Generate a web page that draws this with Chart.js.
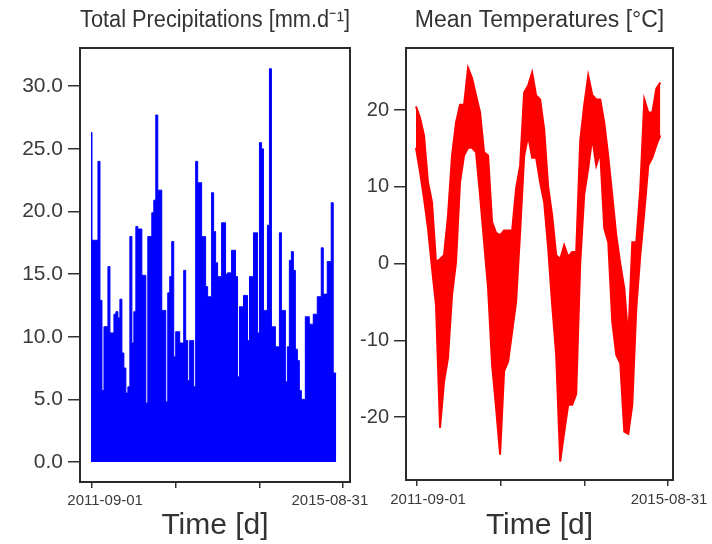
<!DOCTYPE html>
<html>
<head>
<meta charset="utf-8">
<script src="https://cdn.jsdelivr.net/npm/chart.js@4.4.0/dist/chart.umd.min.js"></script>
<style>
  body { margin: 0; background: #fff; }
  #wrap { position: relative; width: 712px; height: 544px; }
  canvas { position: absolute; top: 0; }
  #precipChart { left: 0; }
  #tempChart { left: 356px; }
</style>
</head>
<body>
<div id="wrap">
  <canvas id="precipChart" width="380" height="544"></canvas>
  <canvas id="tempChart" width="356" height="544"></canvas>
</div>
<script>
// Time axis: days since 2011-09-01
const DATE_LABELS = ['2011-09-01', '2015-08-31'];
const AXIS_TICK_DAYS = [0, 487, 973, 1460];
const PRECIP_TICKS = [0, 5, 10, 15, 20, 25, 30];
const TEMP_TICKS = [-20, -10, 0, 10, 20];

// Precipitation envelope (mm/d), one value every ~11.6 days
const PRECIP_START_DAY = -6;
const PRECIP_STEP_DAYS = 11.6;
const precipValues = [
    26.3, 17.7, 17.7, 17.7, 24.0, 12.9, 5.7, 10.8, 10.8, 15.6,
    10.3, 10.3, 11.8, 12.0, 11.5, 13.0, 8.7, 7.5, 5.5, 6.0,
    18.0, 9.5, 12.0, 18.8, 18.6, 18.6, 14.9, 14.9, 4.7, 18.0,
    18.0, 19.9, 20.9, 27.7, 21.7, 21.7, 12.1, 12.1, 4.8, 13.5,
    14.8, 17.6, 8.4, 10.4, 10.4, 9.5, 9.5, 15.3, 9.7, 6.5,
    9.7, 9.7, 6.0, 24.0, 22.3, 22.3, 18.0, 18.0, 14.0, 13.2,
    13.2, 21.5, 18.4, 15.9, 14.8, 14.8, 19.1, 19.1, 15.0, 15.1,
    15.1, 16.9, 16.9, 14.8, 6.8, 12.4, 12.4, 13.3, 13.3, 9.7,
    14.8, 14.8, 18.3, 18.3, 10.3, 25.5, 25.0, 12.1, 12.1, 18.9,
    31.4, 10.8, 10.8, 9.2, 9.2, 18.3, 12.1, 12.1, 6.4, 9.2,
    16.1, 16.8, 15.3, 9.0, 8.1, 5.7, 5.0, 5.0, 11.6, 11.6,
    11.0, 11.0, 11.8, 11.8, 13.2, 13.2, 17.1, 13.4, 13.4, 16.0,
    16.0, 20.7, 7.1, 7.1
];

// Mean temperature band (°C): high and low every ~23.3 days
const TEMP_START_DAY = -6;
const TEMP_STEP_DAYS = 23.3;
const tempHigh = [
    20.5, 19, 16.7, 10.6, 8, 0.2, 0.6, 1.1, 6.3, 14.1,
    18.4, 20.7, 20.7, 25.5, 24.2, 21.9, 19.7, 14.5, 14.1, 5.4,
    4.0, 3.7, 4.3, 4.3, 4.3, 9.8, 12.8, 22.3, 23.2, 24.9,
    21.9, 21.4, 17.5, 10, 6.3, 1.1, 0.6, 2.4, 0.9, 1.5,
    1.5, 16, 20.7, 24.5, 22, 21.4, 21.4, 18.4, 14, 8.9,
    3.7, 0, -3.2, -9.7, 2.8, 2.8, 9.8, 21.4, 19.7, 19.7,
    22.8, 23.6
];
const tempLow = [
    15.1, 12, 8.5, 4.6, -0.6, -5.4, -21.4, -15.4, -12.3, -4.1,
    0.2, 10.6, 14.1, 15.1, 15.1, 14.5, 8.9, 2.8, -3.2, -13.2,
    -18.8, -24.9, -14, -12.8, -8.9, -5.0, 4.1, 14, 16.7, 13.8,
    13.8, 10.6, 8.0, 2.0, -5.4, -11.9, -25.8, -22, -18.4, -18.4,
    -17, 0, 9, 12.4, 16.4, 12.8, 14.5, 4.6, 2.8, -7.6,
    -11.9, -13, -21.9, -22.2, -18.4, -5.8, 1.1, 6.7, 12.8, 13.8,
    15.4, 16.7
];

const precipPoints = precipValues.map((v, i) => ({ x: PRECIP_START_DAY + i * PRECIP_STEP_DAYS, y: v }));
const tempHighPoints = tempHigh.map((v, i) => ({ x: TEMP_START_DAY + i * TEMP_STEP_DAYS, y: v }));
const tempLowPoints = tempLow.map((v, i) => ({ x: TEMP_START_DAY + i * TEMP_STEP_DAYS, y: v }));

Chart.defaults.font.family = "'Liberation Sans', Arial, sans-serif";
Chart.defaults.color = '#333';

// draws the closed box around the plot area
const framePlugin = {
    id: 'frame',
    afterDraw(chart) {
        const { ctx, chartArea: a } = chart;
        ctx.save();
        ctx.strokeStyle = '#2b2b2b';
        ctx.lineWidth = 2;
        ctx.strokeRect(a.left, a.top, a.right - a.left, a.bottom - a.top);
        ctx.restore();
    }
};

function makeChart(id, cfg) {
    return new Chart(document.getElementById(id), {
        type: 'line',
        data: { datasets: cfg.datasets },
        plugins: [framePlugin],
        options: {
            responsive: false,
            animation: false,
            devicePixelRatio: 1,
            layout: { padding: { left: 0, right: cfg.padRight, top: 0, bottom: 0 } },
            plugins: {
                legend: { display: false },
                tooltip: { enabled: false },
                title: {
                    display: true,
                    text: cfg.title,
                    fullSize: false,
                    color: '#333',
                    font: { size: 23, weight: 'normal' },
                    padding: { top: 7.2, bottom: 13.2 }
                }
            },
            scales: {
                x: {
                    type: 'linear',
                    position: 'bottom',
                    weight: 0,
                    min: cfg.xMin,
                    max: cfg.xMax,
                    afterBuildTicks: s => { s.ticks = AXIS_TICK_DAYS.map(v => ({ value: v })); },
                    afterFit: s => { s.height = 8; s.paddingLeft = 0; s.paddingRight = 0; },
                    ticks: { display: false },
                    grid: { drawOnChartArea: false, tickLength: 6, color: '#333', lineWidth: 1.5 },
                    border: { display: false }
                },
                xl: {
                    type: 'linear',
                    position: 'bottom',
                    weight: 1,
                    min: cfg.xMin,
                    max: cfg.xMax,
                    afterBuildTicks: s => { s.ticks = cfg.labelDays.map(v => ({ value: v })); },
                    afterFit: s => { s.height = cfg.labelAxisHeight; s.paddingLeft = 0; s.paddingRight = 0; },
                    ticks: {
                        autoSkip: false,
                        maxRotation: 0,
                        padding: cfg.labelPad,
                        color: '#3a3a3a',
                        font: { size: 15 },
                        callback: (v, i) => DATE_LABELS[i]
                    },
                    grid: { display: false },
                    border: { display: false },
                    title: {
                        display: true,
                        text: 'Time [d]',
                        color: '#333',
                        font: { size: 30 },
                        padding: { top: 0, bottom: 0 }
                    }
                },
                y: {
                    min: cfg.yMin,
                    max: cfg.yMax,
                    afterBuildTicks: s => { s.ticks = cfg.yTicks.map(v => ({ value: v })); },
                    afterFit: s => { s.width = cfg.yWidth; },
                    ticks: {
                        padding: 5,
                        color: '#3a3a3a',
                        font: { size: cfg.yFont },
                        callback: cfg.yFormat
                    },
                    grid: { drawOnChartArea: false, tickLength: 12, color: '#333', lineWidth: 1.5 },
                    border: { display: false }
                }
            }
        }
    });
}

makeChart('precipChart', {
    title: 'Total Precipitations [mm.d\u207B\u00B9]',
    padRight: 30,
    xMin: -70, xMax: 1501,
    labelDays: [76, 1384],
    labelAxisHeight: 54,
    labelPad: -6.5,
    yMin: -1.6, yMax: 33.05,
    yTicks: PRECIP_TICKS,
    yWidth: 80,
    yFont: 21,
    yFormat: v => v.toFixed(1),
    datasets: [{
        data: precipPoints,
        stepped: 'middle',
        fill: 'origin',
        backgroundColor: '#0000ff',
        borderColor: '#0000ff',
        borderWidth: 1,
        pointRadius: 0
    }]
});

makeChart('tempChart', {
    title: 'Mean Temperatures [\u00B0C]',
    padRight: 39,
    xMin: -64, xMax: 1489,
    labelDays: [64, 1466],
    labelAxisHeight: 56,
    labelPad: -5,
    yMin: -28.2, yMax: 28.1,
    yTicks: TEMP_TICKS,
    yWidth: 50,
    yFont: 20,
    yFormat: v => String(v),
    datasets: [{
        data: tempHighPoints,
        fill: false,
        borderColor: '#ff0000',
        borderWidth: 2,
        pointRadius: 0,
        tension: 0
    }, {
        data: tempLowPoints,
        fill: '-1',
        backgroundColor: '#ff0000',
        borderColor: '#ff0000',
        borderWidth: 2,
        pointRadius: 0,
        tension: 0
    }]
});
</script>
</body>
</html>
